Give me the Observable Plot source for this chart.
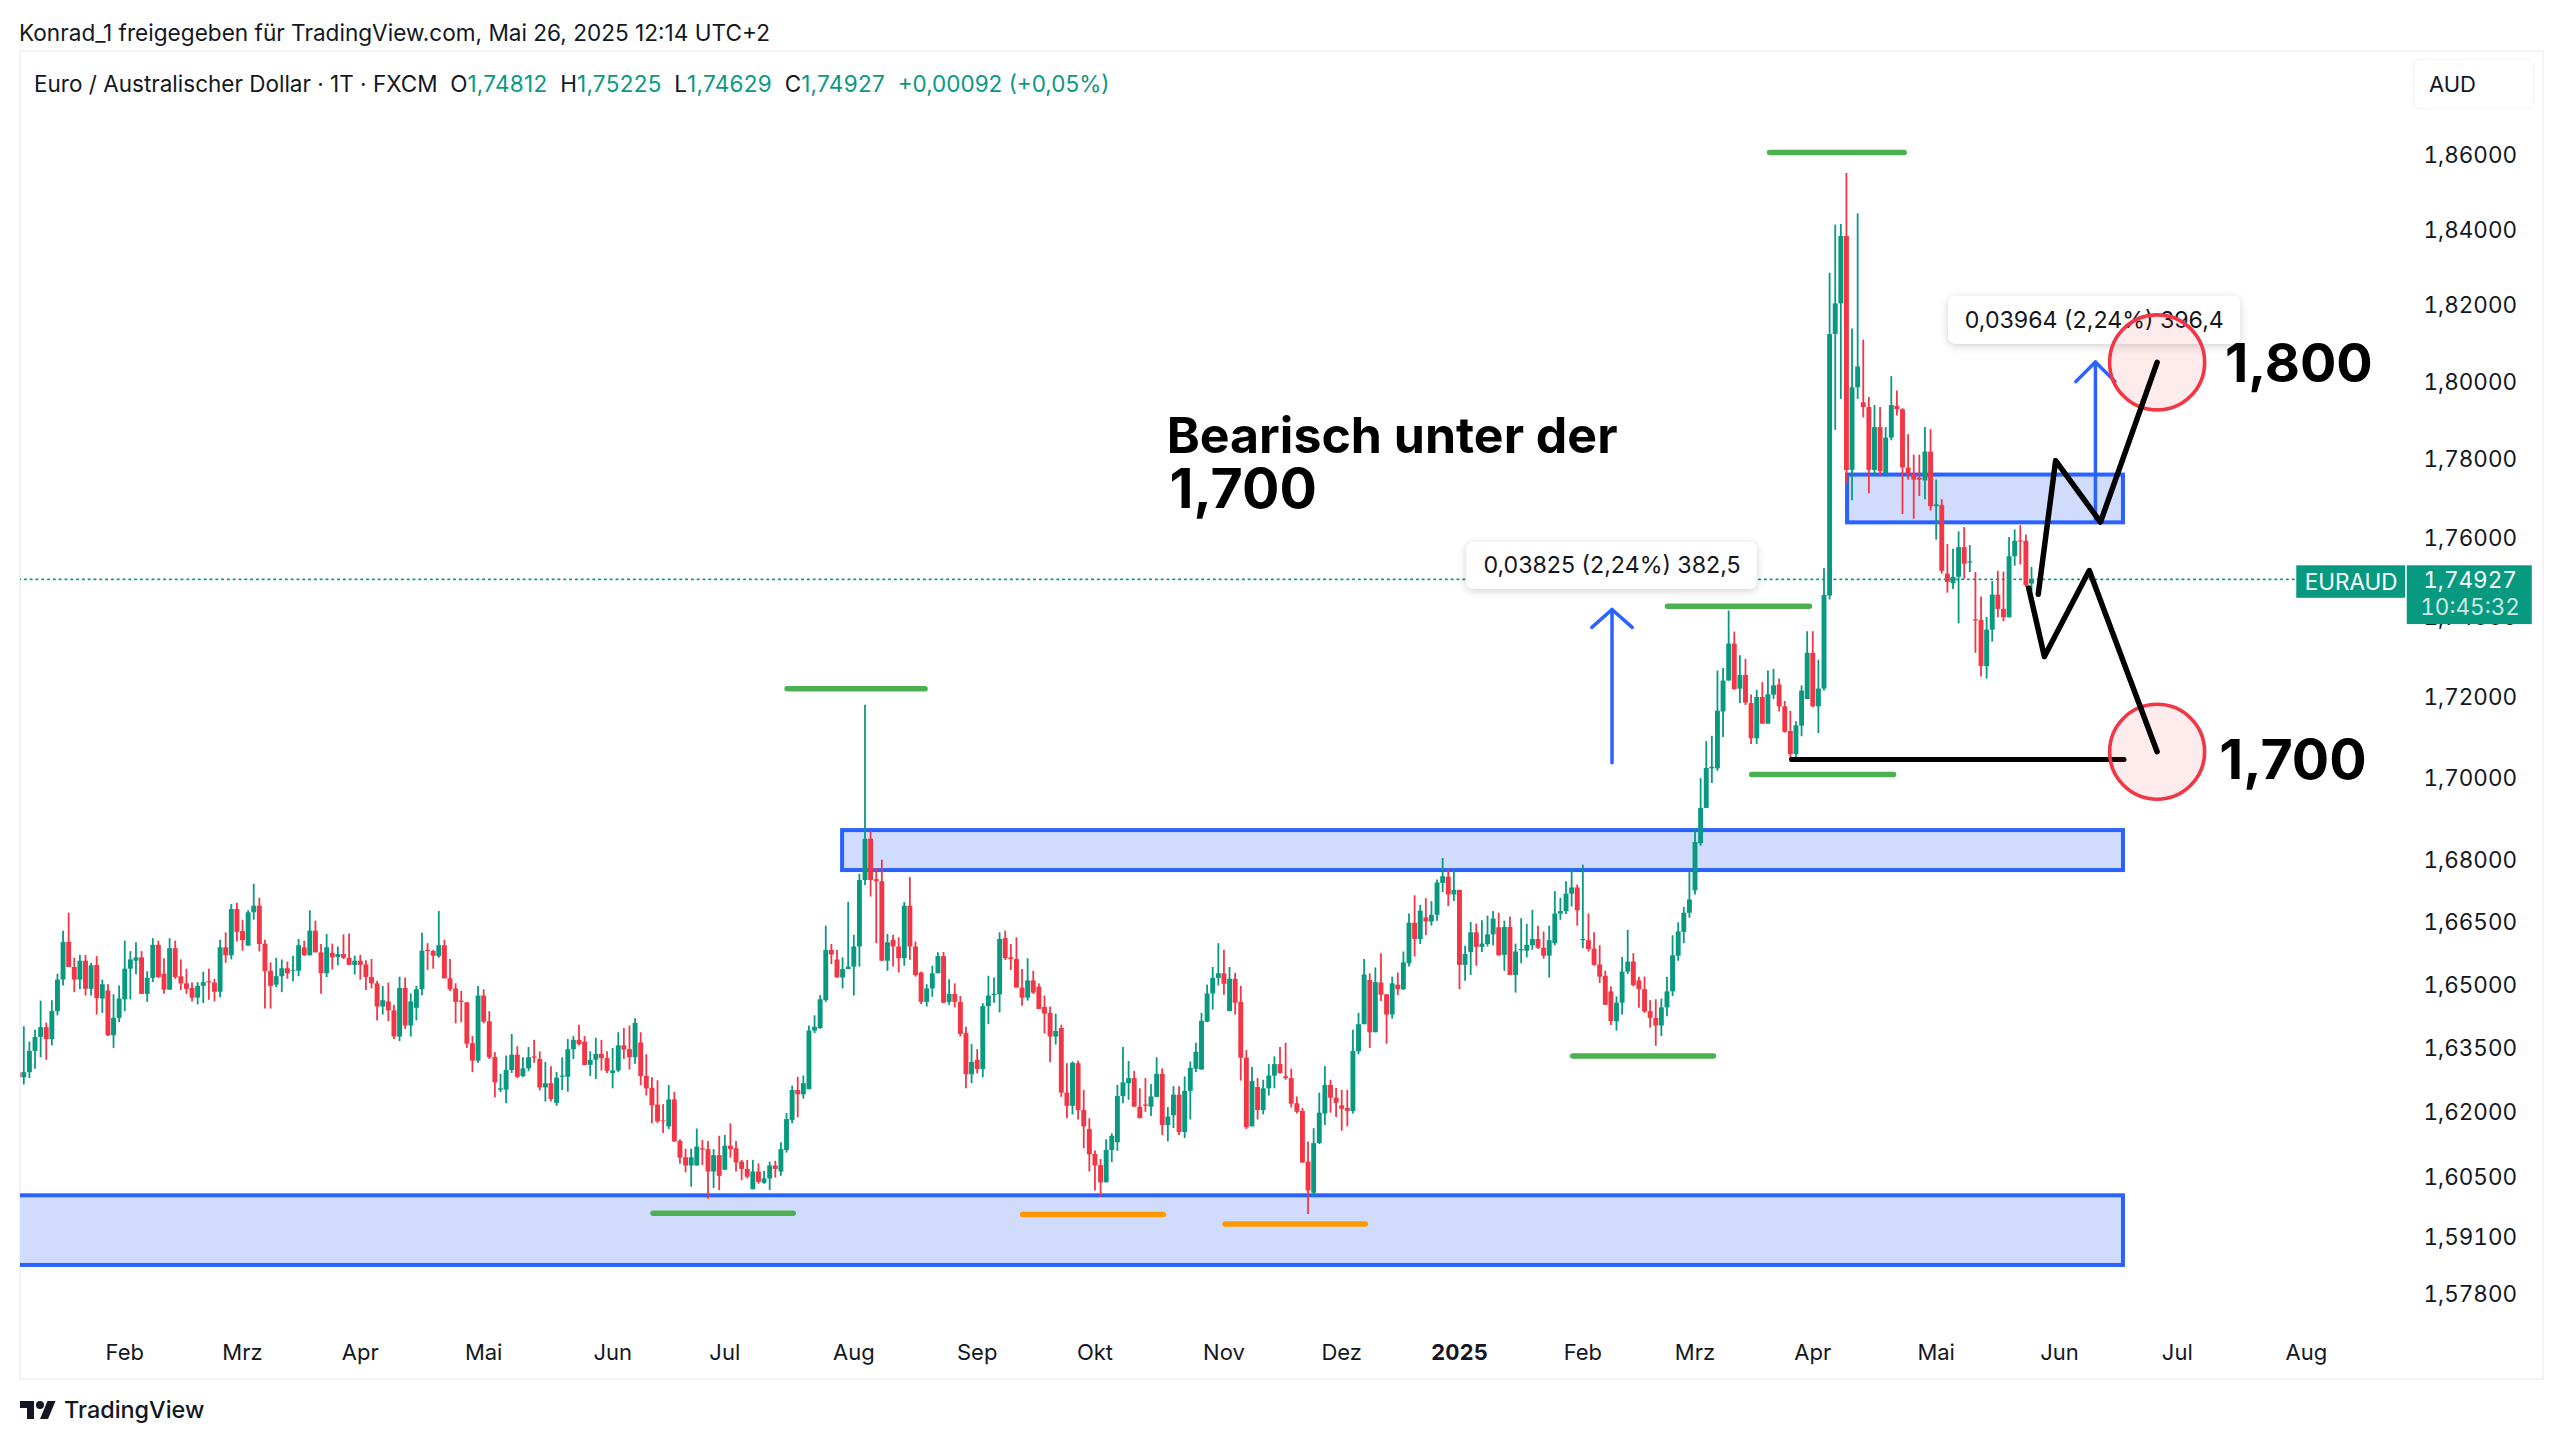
<!DOCTYPE html>
<html lang="de">
<head>
<meta charset="utf-8">
<title>EURAUD</title>
<script src="https://cdn.jsdelivr.net/npm/d3@7"></script>
<script src="https://cdn.jsdelivr.net/npm/@observablehq/plot@0.6"></script>
<style>
  html,body{margin:0;padding:0;background:#fff;width:2560px;height:1443px;overflow:hidden;font-family:Inter,"Liberation Sans",sans-serif;color:#131722}
  #page{position:relative;width:2560px;height:1443px}
  #share{position:absolute;left:19px;top:19px;font-size:22.6px;line-height:28px;white-space:nowrap}
  #frame{position:absolute;left:19px;top:50px;width:2521px;height:1326px;border:2px solid #f3f3f4;pointer-events:none}
  #legend{position:absolute;left:34px;top:70px;font-size:22.5px;line-height:28px;white-space:pre;z-index:3}
  #legend b{font-weight:400;color:#089981}
  #legend b.v{letter-spacing:.3px}
  #cur{position:absolute;left:2413px;top:59px;width:119px;height:48px;border:1.5px solid #f0f3fa;border-radius:6px;font-size:22px;line-height:48px;text-indent:15px;z-index:3}
  #chart{position:absolute;left:0;top:51px}
  #logo{position:absolute;left:20px;top:1398px;display:flex;align-items:center;gap:8px;font-size:23.4px;font-weight:500;line-height:24px}
</style>
</head>
<body>
<div id="page">
  <div id="share"></div>
  <div id="frame"></div>
  <div id="legend"></div>
  <div id="cur"></div>
  <div id="chart"></div>
  <div id="logo"><svg width="36" height="22" viewBox="0 4 36 18"><path fill="#131722" d="M14 22H7V11H0V4h14v18zM28 22h-8l7.5-18h8L28 22z"/><circle fill="#131722" cx="20" cy="8" r="4"/></svg><span id="brand"></span></div>
</div>
<script>
// ---- Text ----
const shareLine = "Konrad_1 freigegeben für TradingView.com, Mai 26, 2025 12:14 UTC+2";
const instrument = "Euro / Australischer Dollar · 1T · FXCM";
const ohlcLabels = ["O","H","L","C"];
const ohlcValues = ["1,74812","1,75225","1,74629","1,74927"];
const changeText = "+0,00092 (+0,05%)";
const brand = "TradingView";
const currency = "AUD";

// ---- Daily candles, [open, high, low, close], in 1/10000 AUD ----
const barsA = [
[16291,16316,16279,16279],[16279,16399,16262,16291],[16291,16363,16277,16341],[16341,16391,16299,16374],[16374,16460,16326,16397],
[16397,16408,16320,16369],[16369,16461,16354,16435],[16435,16524,16425,16510],[16510,16627,16496,16600],[16600,16670,16540,16540],
[16540,16562,16480,16510],[16510,16569,16487,16555],[16555,16569,16472,16488],[16488,16550,16472,16544],[16545,16566,16427,16466],
[16465,16510,16431,16499],[16484,16499,16376,16378],[16378,16475,16348,16419],[16419,16496,16409,16465],[16463,16603,16435,16536],
[16536,16578,16463,16558],[16555,16599,16523,16563],[16563,16578,16476,16476],[16476,16530,16457,16514],[16514,16609,16504,16593],
[16593,16603,16514,16516],[16524,16561,16476,16486],[16486,16609,16486,16585],[16585,16603,16512,16516],[16518,16558,16485,16501],
[16501,16536,16476,16488],[16490,16503,16458,16467],[16467,16504,16451,16495],[16495,16529,16454,16504],[16506,16536,16462,16503],
[16503,16512,16458,16481],[16481,16605,16468,16587],[16587,16623,16550,16568],[16568,16691,16558,16679],[16679,16694,16601,16624],
[16626,16653,16579,16604],[16591,16676,16591,16671],[16671,16740,16653,16687],[16687,16706,16577,16595],[16596,16605,16441,16530],
[16531,16551,16441,16495],[16498,16562,16492,16518],[16518,16558,16480,16537],[16537,16553,16512,16525],[16531,16567,16506,16533],
[16531,16607,16518,16592],[16587,16603,16567,16568],[16568,16676,16568,16627],[16627,16651,16575,16575],[16575,16595,16476,16525],
[16525,16619,16516,16587],[16574,16596,16534,16563],[16564,16589,16544,16571],[16571,16618,16559,16562],[16562,16620,16545,16545],
[16545,16567,16522,16555],[16555,16569,16510,16545]
];
const barsB = [
[16546,16556,16485,16516],[16516,16559,16489,16501],[16501,16507,16413,16446],[16446,16495,16427,16461],[16458,16503,16411,16437],
[16437,16450,16369,16375],[16375,16517,16364,16490],[16490,16515,16393,16401],[16401,16477,16375,16458],[16443,16495,16413,16487],
[16487,16622,16473,16579],[16581,16597,16533,16578],[16578,16581,16536,16567],[16566,16674,16562,16592],[16592,16605,16513,16513],
[16513,16559,16483,16487],[16489,16501,16406,16457],[16460,16483,16409,16457],[16456,16456,16348,16358],[16359,16376,16291,16318],
[16318,16495,16313,16472],[16472,16487,16406,16410],[16411,16435,16322,16326],[16327,16338,16232,16267],[16250,16287,16244,16253],
[16250,16330,16218,16296],[16296,16381,16289,16332],[16332,16352,16277,16280],[16282,16326,16279,16300],[16300,16350,16293,16326],
[16328,16367,16313,16325],[16322,16340,16248,16255],[16255,16315,16222,16265],[16265,16305,16222,16228],[16219,16291,16212,16278],
[16280,16326,16249,16283],[16280,16369,16245,16345],[16345,16376,16322,16367],[16367,16403,16354,16357],[16363,16376,16307,16308],
[16308,16340,16282,16320],[16320,16372,16275,16334],[16334,16367,16295,16324],[16324,16340,16289,16294],[16289,16348,16253,16295],
[16295,16385,16291,16354],[16354,16395,16322,16344],[16345,16401,16297,16326],[16326,16418,16311,16407],[16361,16385,16260,16282],
[16282,16333,16236,16253],[16254,16279,16171,16213],[16215,16272,16172,16176],[16178,16216,16148,16176],[16164,16261,16158,16227],
[16227,16245,16128,16129],[16130,16134,16077,16091],[16092,16112,16057,16073],[16073,16112,16024,16092],[16073,16159,16073,16117]
];
const barsC = [
[16113,16132,16074,16110],[16111,16130,15996,16059],[16059,16111,16021,16097],[16097,16142,16016,16049],[16063,16144,16063,16119],
[16119,16171,16091,16111],[16113,16130,16059,16080],[16082,16086,16039,16065],[16065,16086,16043,16047],[16018,16086,16018,16059],
[16059,16078,16031,16035],[16033,16060,16031,16043],[16043,16082,16016,16073],[16073,16084,16045,16065],[16059,16127,16049,16111],
[16109,16195,16103,16181],[16179,16259,16171,16249],[16249,16280,16185,16239],[16239,16283,16229,16265],[16251,16401,16251,16389],
[16389,16425,16383,16398],[16395,16473,16393,16463],[16461,16639,16457,16581],[16581,16595,16547,16570],[16558,16581,16515,16515],
[16515,16563,16489,16535],[16535,16696,16535,16541],[16541,16617,16472,16589],[16589,16764,16541,16749],[16749,17178,16737,16849],
[16849,16867,16709,16749],[16751,16778,16597,16746],[16746,16798,16555,16555],[16555,16619,16531,16599],[16605,16617,16541,16589],
[16589,16611,16527,16561],[16561,16696,16543,16687],[16687,16756,16557,16589],[16589,16601,16517,16521],[16527,16529,16452,16457],
[16457,16499,16446,16489],[16489,16543,16469,16525],[16525,16575,16525,16566],[16566,16576,16454,16455],[16457,16511,16450,16476],
[16476,16501,16444,16457],[16457,16471,16375,16381],[16383,16398,16253,16286],[16286,16357,16265,16315],[16320,16345,16288,16298],
[16298,16454,16279,16447],[16447,16519,16404,16472],[16473,16515,16455,16476],[16475,16623,16432,16607],[16609,16627,16557,16561],
[16563,16595,16533,16559],[16559,16611,16491,16491],[16491,16535,16448,16467],[16467,16561,16460,16508],[16508,16531,16476,16479],
[16493,16501,16440,16440]
];
const barsD = [
[16445,16472,16382,16429],[16431,16446,16314,16375],[16375,16429,16356,16388],[16395,16403,16233,16243],[16243,16312,16183,16212],
[16212,16316,16192,16313],[16312,16318,16180,16202],[16202,16249,16113,16164],[16158,16183,16059,16099],[16100,16108,16015,16073],
[16074,16088,16001,16034],[16034,16134,16034,16109],[16109,16148,16081,16142],[16127,16261,16107,16235],[16235,16350,16218,16267],
[16265,16317,16226,16277],[16277,16294,16210,16210],[16210,16253,16183,16183],[16215,16277,16198,16212],[16210,16263,16188,16234],
[16233,16326,16233,16287],[16287,16300,16144,16167],[16167,16209,16129,16187],[16190,16258,16160,16238],[16238,16258,16144,16151],
[16151,16281,16137,16247],[16247,16316,16180,16301],[16299,16360,16291,16339],[16297,16431,16297,16412],[16410,16498,16409,16477],
[16477,16540,16439,16514],[16514,16597,16496,16525],[16525,16581,16474,16500],[16435,16540,16435,16512],[16512,16526,16427,16455],
[16457,16495,16271,16325],[16325,16343,16158,16162],[16164,16303,16164,16270],[16256,16277,16180,16202],[16202,16273,16192,16253],
[16253,16310,16236,16283],[16283,16328,16253,16310],[16310,16350,16287,16289],[16281,16360,16273,16277],[16277,16299,16208,16217],
[16218,16234,16194,16198],[16200,16207,16079,16080],[16082,16129,15961,16015],[16010,16160,16001,16125],[16125,16243,16123,16196],
[16194,16305,16167,16261],[16261,16273,16196,16231],[16231,16254,16186,16219],[16213,16249,16154,16205],[16207,16249,16164,16200],
[16200,16391,16194,16341],[16340,16431,16333,16404],[16404,16559,16404,16522],[16509,16525,16348,16385],[16385,16539,16385,16504]
];
const barsE = [
[16503,16573,16459,16474],[16475,16475,16358,16427],[16427,16517,16417,16501],[16498,16527,16473,16487],[16487,16577,16485,16551],
[16549,16668,16541,16646],[16646,16712,16565,16607],[16607,16689,16595,16675],[16659,16705,16616,16649],[16649,16698,16639,16665],
[16665,16750,16651,16743],[16742,16802,16720,16758],[16757,16776,16686,16714],[16714,16772,16698,16725],[16725,16725,16487,16545],
[16545,16591,16507,16571],[16576,16648,16521,16623],[16623,16644,16543,16588],[16588,16652,16576,16596],[16595,16663,16589,16618],
[16618,16674,16592,16656],[16635,16670,16567,16568],[16569,16651,16531,16636],[16636,16661,16521,16521],[16521,16596,16479,16577],
[16580,16657,16549,16583],[16579,16643,16563,16593],[16592,16677,16581,16607],[16607,16639,16583,16586],[16586,16625,16560,16567],
[16567,16639,16515,16604],[16597,16722,16592,16668],[16668,16706,16653,16674],[16674,16746,16667,16716],[16716,16776,16685,16731],
[16731,16738,16639,16676],[16604,16786,16585,16607],[16604,16668,16577,16583],[16584,16623,16543,16545],[16546,16592,16502,16517],
[16519,16531,16450,16450],[16482,16494,16402,16411],[16411,16470,16389,16455],[16455,16564,16427,16529],[16529,16629,16523,16553],
[16553,16573,16494,16497],[16508,16517,16443,16487],[16487,16517,16431,16434],[16435,16461,16396,16419],[16419,16463,16353,16401],
[16401,16465,16376,16444],[16444,16517,16423,16482],[16482,16616,16471,16568],[16567,16647,16555,16625],[16624,16684,16597,16670],
[16670,16768,16658,16702],[16724,16874,16714,16841]
];
const barsF = [
[16838,16997,16832,16924],[16924,17088,16924,17022],[17021,17101,16985,17025],[17021,17263,17015,17163],[17161,17269,17098,17238],
[17238,17413,17238,17330],[17330,17360,17215,17217],[17218,17301,17182,17252],[17252,17292,17177,17183],[17182,17203,17081,17095],
[17095,17215,17081,17197],[17197,17234,17131,17131],[17131,17263,17131,17204],[17203,17267,17192,17226],[17228,17243,17161,17174],
[17174,17187,17109,17111],[17113,17163,17042,17056],[17056,17137,17048,17127],[17126,17226,17100,17213],[17192,17361,17192,17307],
[17307,17361,17172,17174],[17174,17290,17108,17218],[17218,17520,17213,17452]
];
const barsG = [
[17451,18283,17441,18122],[18122,18410,17873,18202],[18202,18412,17953,18380],[18380,18548,17735,17770],[17770,18136,17692,17983],
[17983,18440,17953,18037],[17944,18107,17905,17932],[17932,17958,17710,17770],[17770,17937,17756,17880],[17880,17932,17756,17767],
[17761,17880,17761,17853],[17853,18012,17846,17937],[17935,17975,17910,17926],[17926,17929,17657,17776],[17776,17862,17745,17759],
[17759,17809,17645,17745],[17750,17809,17703,17745],[17743,17880,17695,17817],[17817,17875,17666,17677],[17677,17745,17592,17682],
[17680,17695,17506,17513],[17506,17581,17458,17485],[17482,17569,17467,17498],[17498,17613,17381,17573],[17573,17624,17493,17531],
[17534,17578,17510,17537],[17391,17510,17307,17388],[17389,17448,17248,17274],[17274,17397,17243,17365],[17365,17487,17335,17453],
[17453,17513,17396,17417],[17417,17511,17386,17396],[17396,17599,17396,17550],[17550,17618,17526,17589],[17590,17629,17529,17587],
[17589,17605,17472,17477],[17481,17523,17463,17493]
];

// ---- Axes ----
const priceTicks = [1.86,1.84,1.82,1.80,1.78,1.76,1.74,1.72,1.70,1.68,1.665,1.65,1.635,1.62,1.605,1.591,1.578];
const monthBars = [19,40,61,83,106,126,149,171,192,215,236,279,299,320,342,364,385,408];
const monthNames = ["Feb","Mrz","Apr","Mai","Jun","Jul","Aug","Sep","Okt","Nov","Dez","Feb","Mrz","Apr","Mai","Jun","Jul","Aug"];
const yearBar = 257;
const yearName = "2025";
const lastClose = 1.74927;

// ---- Drawings, in bar number and price ----
const zones = [
  {x1:-3,x2:375.4,y1:1.5844,y2:1.6004},
  {x1:147,x2:375.4,y1:1.6773,y2:1.6870},
  {x1:326.2,x2:375.4,y1:1.7636,y2:1.7758}
];
const greenLevels = [
  {x1:137.1,x2:161.7,y:1.7219},{x1:312.3,x2:336.3,y:1.8604},{x1:294.1,x2:319.4,y:1.7425},
  {x1:309.1,x2:334.4,y:1.7007},{x1:277.2,x2:302.3,y:1.6330},{x1:113.2,x2:138.2,y:1.5964}
];
const orangeLevels = [{x1:179.1,x2:204.2,y:1.5961},{x1:215.2,x2:240.2,y:1.5939}];
const supportLine = {x1:316.2,x2:375.5,y:1.7044};
const pathUp = [[360.2,1.7455],[363.3,1.7795],[371.3,1.7638],[381.4,1.8049]];
const pathDown = [[358.5,1.7471],[361.3,1.7299],[369.3,1.7515],[381.4,1.7063]];
const targets = [[381.4,1.8049],[381.4,1.7063]];
const arrowLeftShaft = [[284.2,1.7036],[284.2,1.7417]];
const arrowLeftHead = [[280.6,1.7372],[284.2,1.7417],[287.8,1.7372]];
const arrowRightShaft = [[370.4,1.7639],[370.4,1.8050]];
const arrowRightHead = [[366.9,1.7999],[370.4,1.8050],[373.9,1.7999]];
const measures = [
  {x1:258.3,x2:310.1,y1:1.7467,y2:1.7586,tx:284.2,ty:1.7527,t:"0,03825 (2,24%) 382,5"},
  {x1:344.2,x2:396.3,y1:1.8096,y2:1.8222,tx:370.2,ty:1.8159,t:"0,03964 (2,24%) 396,4"}
];
const headline = [{x:204.8,y:1.7862,t:"Bearisch unter der"}];
const labelsUp = [{x:393.5,y:1.8049,t:"1,800"}];
const labelsDown = [
  {x:205.3,y:1.7723,t:"1,700"},
  {x:392.5,y:1.7044,t:"1,700"}
];
const priceBadges = [
  {x1:406.3,x2:425.7,y1:1.7445,y2:1.7527,rx:3},
  {x1:426.0,x2:448.3,y1:1.7379,y2:1.7527,rx:3}
];
const badgeTexts = [
  {x:416,y:1.7485,t:"EURAUD",o:1},
  {x:437.2,y:1.7490,t:"1,74927",o:1},
  {x:437.2,y:1.7422,t:"10:45:32",o:0.8}
];

// ---- Build ----
const bars = [...barsA,...barsB,...barsC,...barsD,...barsE,...barsF,...barsG].map((b,i)=>({
  i,o:b[0]/1e4,h:b[1]/1e4,l:b[2]/1e4,c:b[3]/1e4,dir:b[3]>=b[0]?"up":"down"
}));
const lastBar = bars.length-1;
const blue="#2962ff", green="#089981", red="#f23645";
const priceFmt = v => v.toFixed(5).replace(".",",");
const monthOf = new Map(monthBars.map((b,k)=>[b,monthNames[k]]));
const pts = a => a.map(([x,y])=>({x,y}));
const font = "Inter, 'Liberation Sans', sans-serif";

document.getElementById("share").textContent = shareLine;
document.getElementById("cur").textContent = currency;
document.getElementById("brand").textContent = brand;
document.getElementById("legend").innerHTML =
  instrument + "  " + ohlcLabels.map((l,k)=>l+"<b class='v'>"+ohlcValues[k]+"</b>").join("  ") + "  <b>"+changeText+"</b>";

const chart = Plot.plot({
  width:2560, height:1326,
  marginLeft:20, marginRight:140, marginTop:0, marginBottom:40,
  style:{background:"transparent",fontFamily:font,overflow:"visible"},
  x:{type:"linear",domain:[0,lastBar],range:[17.7,2031]},
  y:{type:"log",domain:[1.578,1.86],range:[1242,102.5]},
  color:{domain:["up","down"],range:[green,red]},
  marks:[
    Plot.rect(zones,{x1:"x1",x2:"x2",y1:"y1",y2:"y2",fill:"#d1dcfd",stroke:blue,strokeWidth:4,clip:true}),
    Plot.line([{x:-3,y:lastClose},{x:406.3,y:lastClose}],{x:"x",y:"y",stroke:green,strokeWidth:1.6,strokeDasharray:"1.6 4.2",clip:true}),
    Plot.ruleX(bars,{x:"i",y1:"l",y2:"h",stroke:"dir",strokeWidth:1.8,clip:true}),
    Plot.ruleX(bars,{x:"i",y1:"o",y2:"c",stroke:"dir",strokeWidth:4.9,clip:true}),
    Plot.link(greenLevels,{x1:"x1",x2:"x2",y1:"y",y2:"y",stroke:"#4caf50",strokeWidth:5.5,strokeLinecap:"round"}),
    Plot.link(orangeLevels,{x1:"x1",x2:"x2",y1:"y",y2:"y",stroke:"#ff9800",strokeWidth:5.5,strokeLinecap:"round"}),
    Plot.link([supportLine],{x1:"x1",x2:"x2",y1:"y",y2:"y",stroke:"#000",strokeWidth:5,strokeLinecap:"round"}),
    Plot.line(pts(arrowLeftShaft),{x:"x",y:"y",stroke:blue,strokeWidth:3.5}),
    Plot.line(pts(arrowLeftHead),{x:"x",y:"y",stroke:blue,strokeWidth:3.5,strokeLinecap:"round",strokeLinejoin:"round"}),
    Plot.line(pts(arrowRightShaft),{x:"x",y:"y",stroke:blue,strokeWidth:3.5}),
    Plot.line(pts(arrowRightHead),{x:"x",y:"y",stroke:blue,strokeWidth:3.5,strokeLinecap:"round",strokeLinejoin:"round"}),
    Plot.rect(measures,{x1:"x1",x2:"x2",y1:"y1",y2:"y2",fill:"#fff",rx:7,imageFilter:"drop-shadow(0 2px 4px rgba(0,0,0,.18))"}),
    Plot.text(measures,{x:"tx",y:"ty",text:"t",fontSize:23.2,fill:"#131722"}),
    Plot.dot(pts(targets),{x:"x",y:"y",r:47.5,fill:red,fillOpacity:0.1,stroke:red,strokeWidth:3.6}),
    Plot.line(pts(pathUp),{x:"x",y:"y",stroke:"#000",strokeWidth:5.5,strokeLinecap:"round",strokeLinejoin:"round"}),
    Plot.line(pts(pathDown),{x:"x",y:"y",stroke:"#000",strokeWidth:5.5,strokeLinecap:"round",strokeLinejoin:"round"}),
    Plot.text(headline,{x:"x",y:"y",text:"t",textAnchor:"start",dy:2,fontSize:50,fontWeight:700,fill:"#000"}),
    Plot.text(labelsUp,{x:"x",y:"y",text:"t",textAnchor:"start",dy:2,fontSize:54,fontWeight:700,fill:"#000"}),
    Plot.text(labelsDown,{x:"x",y:"y",text:"t",textAnchor:"start",dy:2,fontSize:55.5,fontWeight:700,fill:"#000"}),
    Plot.axisY(priceTicks,{anchor:"right",tickSize:0,tickPadding:3,dy:1.5,fontSize:22.5,fill:"#131722",tickFormat:priceFmt,label:null}),
    Plot.axisX(monthBars,{anchor:"bottom",tickSize:0,tickPadding:6.5,fontSize:22,fill:"#131722",tickFormat:d=>monthOf.get(d),label:null}),
    Plot.axisX([yearBar],{anchor:"bottom",tickSize:0,tickPadding:6.5,fontSize:22,fontWeight:700,fill:"#131722",tickFormat:()=>yearName,label:null}),
    Plot.rect(priceBadges,{x1:"x1",x2:"x2",y1:"y1",y2:"y2",fill:green,rx:"rx"}),
    Plot.text(badgeTexts,{x:"x",y:"y",text:"t",fill:"#fff",fillOpacity:"o",fontSize:22.5,fontVariant:"tabular-nums"})
  ]
});
document.getElementById("chart").appendChild(chart);
</script>
</body>
</html>
